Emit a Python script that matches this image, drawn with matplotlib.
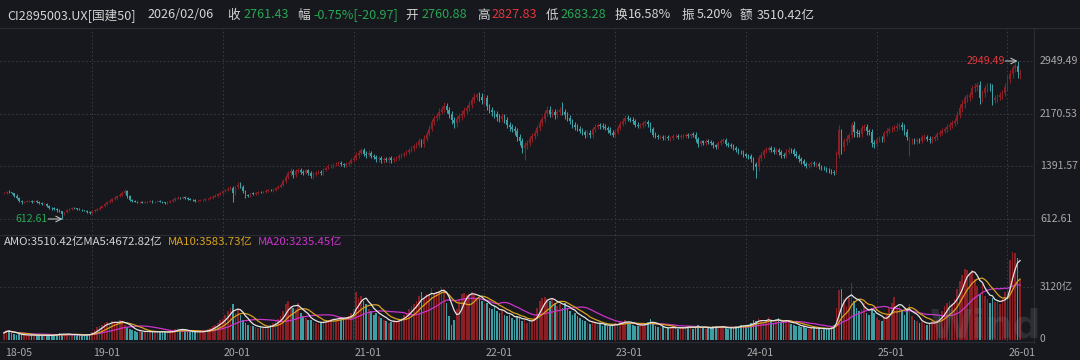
import numpy as np
import pandas as pd
import matplotlib
matplotlib.use("Agg")
import matplotlib.pyplot as plt
from matplotlib.transforms import blended_transform_factory
from matplotlib.lines import Line2D

plt.rcParams['font.family'] = ['Noto Sans CJK SC', 'DejaVu Sans']

# ---------------- data (weekly, 2018-05 .. 2026-02-06) ----------------
first_open = 995
closes = [
    1000, 1015, 1005, 990, 960, 920, 880, 860, 870, 875,
    880, 870, 885, 860, 850, 830, 840, 800, 780, 770,
    760, 740, 725, 690, 710, 740, 760, 775, 770, 760,
    750, 740, 735, 720, 700, 730, 750, 760, 780, 800,
    830, 860, 880, 910, 930, 950, 970, 1000, 1020, 950,
    900, 880, 870, 860, 870, 855, 865, 870, 880, 860,
    870, 880, 870, 860, 850, 860, 880, 900, 915, 930,
    920, 940, 930, 910, 900, 890, 880, 885, 890, 895,
    905, 915, 930, 945, 960, 975, 1000, 1020, 1040, 1060,
    1070, 990, 1080, 1120, 1090, 1020, 970, 960, 990, 985,
    1000, 1010, 1005, 1015, 1030, 1040, 1035, 1045, 1070, 1090,
    1120, 1180, 1230, 1290, 1320, 1270, 1320, 1340, 1310, 1300,
    1330, 1290, 1250, 1280, 1300, 1310, 1290, 1340, 1370, 1390,
    1400, 1420, 1430, 1440, 1420, 1410, 1425, 1445, 1480, 1520,
    1560, 1590, 1630, 1580, 1560, 1590, 1550, 1530, 1500, 1520,
    1480, 1500, 1490, 1510, 1480, 1500, 1520, 1540, 1560, 1580,
    1600, 1630, 1660, 1690, 1710, 1760, 1720, 1800, 1870, 1950,
    2040, 2100, 2130, 2200, 2240, 2280, 2230, 2160, 2080, 2030,
    2090, 2130, 2170, 2210, 2250, 2300, 2370, 2420, 2450, 2420,
    2370, 2400, 2280, 2230, 2190, 2160, 2120, 2090, 2130, 2080,
    2010, 1970, 1950, 1910, 1830, 1770, 1660, 1700, 1740, 1790,
    1840, 1880, 1960, 2030, 2090, 2180, 2230, 2170, 2190, 2150,
    2190, 2220, 2200, 2150, 2110, 2060, 2010, 1980, 1950, 1920,
    1900, 1860, 1890, 1850, 1940, 1980, 2000, 1990, 1980, 1960,
    1930, 1890, 1860, 1900, 1960, 2020, 2060, 2110, 2090, 2080,
    2060, 2010, 1990, 2000, 2030, 2040, 2020, 1940, 1860, 1840,
    1830, 1830, 1815, 1825, 1805, 1815, 1835, 1845, 1825, 1835,
    1845, 1855, 1845, 1865, 1860, 1790, 1720, 1760, 1740, 1770,
    1750, 1740, 1700, 1680, 1740, 1770, 1780, 1720, 1700, 1690,
    1660, 1640, 1610, 1600, 1570, 1550, 1540, 1500, 1420, 1380,
    1520, 1560, 1620, 1640, 1660, 1640, 1610, 1630, 1600, 1560,
    1550, 1610, 1640, 1630, 1580, 1550, 1500, 1470, 1430, 1400,
    1420, 1440, 1420, 1430, 1390, 1370, 1360, 1340, 1330, 1310,
    1300, 1560, 1930, 1680, 1760, 1800, 1850, 2000, 1900, 1880,
    1870, 1960, 1980, 1910, 1900, 1740, 1720, 1790, 1800, 1790,
    1880, 1920, 1940, 1950, 1960, 1990, 2000, 1980, 1900, 1830,
    1760, 1770, 1760, 1780, 1770, 1820, 1830, 1800, 1780, 1800,
    1820, 1870, 1890, 1920, 1940, 1970, 2000, 2030, 2060, 2150,
    2250, 2320, 2395, 2420, 2445, 2545, 2570, 2590, 2400, 2470,
    2545, 2570, 2560, 2380, 2400, 2420, 2440, 2470, 2560, 2680,
    2760, 2840, 2880, 2782.40, 2761.43,
]
open_overrides = {360: 1590, 404: 2760.88}
upper_wick = [
    15, 12, 20, 10, 14, 18, 22, 9, 12, 16, 11, 14, 8, 13, 17, 10, 12, 9, 15, 11,
    13, 16, 20, 12, 10, 14, 11, 15, 9, 12, 10, 13, 11, 8, 12, 14, 16, 12, 18, 15,
    20, 16, 22, 18, 25, 19, 21, 30, 30, 15, 12, 10, 14, 11, 9, 13, 10, 12, 15, 11,
    10, 14, 12, 9, 11, 13, 15, 18, 16, 20, 14, 12, 10, 11, 13, 9, 12, 10, 14, 12,
    15, 13, 18, 16, 20, 22, 18, 25, 21, 24, 28, 30, 26, 35, 45, 20, 18, 16, 14, 17,
    15, 18, 14, 16, 19, 15, 17, 20, 22, 25, 24, 30, 28, 35, 40, 32, 28, 25, 30, 26,
    28, 24, 30, 26, 22, 25, 28, 24, 26, 30, 28, 25, 27, 24, 26, 22, 28, 30, 32, 35,
    38, 40, 30, 35, 32, 40, 28, 30, 34, 26, 28, 30, 25, 32, 28, 26, 30, 28, 32, 30,
    34, 36, 38, 35, 40, 45, 42, 48, 50, 46, 52, 48, 45, 55, 50, 60, 50, 45, 55, 48,
    45, 50, 48, 52, 46, 55, 50, 60, 20, 45, 50, 42, 48, 40, 45, 42, 50, 46, 52, 40,
    45, 40, 42, 38, 44, 40, 46, 55, 40, 44, 42, 48, 50, 46, 52, 48, 55, 50, 45, 48,
    52, 46, 120, 44, 40, 42, 38, 36, 40, 35, 38, 34, 40, 36, 38, 42, 36, 34, 38, 32,
    35, 38, 32, 36, 40, 38, 42, 45, 40, 36, 34, 38, 32, 35, 38, 36, 40, 34, 30, 32,
    28, 30, 26, 32, 28, 30, 34, 28, 26, 30, 32, 28, 30, 26, 28, 34, 30, 26, 28, 32,
    28, 26, 30, 28, 32, 30, 26, 28, 25, 30, 26, 28, 24, 26, 28, 25, 30, 28, 35, 40,
    45, 38, 35, 40, 36, 34, 38, 32, 35, 30, 34, 36, 32, 30, 28, 32, 30, 28, 26, 28,
    26, 30, 28, 25, 27, 24, 26, 25, 24, 26, 28, 60, 80, 20, 45, 50, 40, 50, 60, 45,
    42, 40, 45, 38, 40, 50, 40, 38, 35, 40, 36, 38, 40, 35, 42, 38, 36, 40, 45, 40,
    60, 40, 38, 36, 34, 38, 35, 32, 36, 34, 38, 35, 40, 38, 36, 42, 40, 45, 50, 55,
    60, 55, 50, 48, 52, 55, 60, 50, 70, 55, 50, 52, 60, 55, 50, 48, 52, 55, 60, 65,
    55, 50, 60, 69.49, 66.40,
]
lower_wick = [
    12, 15, 10, 14, 18, 12, 16, 20, 14, 10, 12, 15, 11, 9, 14, 16, 12, 15, 13, 18,
    15, 20, 15, 77.39, 14, 12, 10, 13, 15, 12, 11, 14, 10, 15, 20, 12, 10, 14, 11, 12,
    15, 13, 12, 16, 14, 18, 15, 12, 20, 25, 22, 15, 12, 10, 14, 11, 13, 10, 12, 14,
    12, 10, 13, 11, 15, 12, 10, 9, 14, 12, 16, 13, 15, 11, 10, 12, 14, 11, 13, 10,
    12, 14, 11, 15, 13, 16, 14, 18, 15, 20, 22, 120, 25, 20, 22, 30, 40, 25, 20, 18,
    16, 18, 15, 14, 17, 16, 15, 18, 20, 18, 22, 25, 28, 30, 35, 45, 30, 28, 25, 30,
    28, 30, 35, 40, 30, 26, 28, 25, 24, 22, 26, 28, 25, 30, 28, 26, 24, 28, 25, 30,
    35, 40, 32, 38, 45, 36, 40, 35, 38, 45, 32, 40, 35, 45, 38, 30, 32, 28, 30, 26,
    28, 30, 32, 35, 30, 36, 45, 38, 40, 36, 42, 40, 38, 45, 40, 48, 55, 50, 60, 65,
    50, 45, 48, 42, 46, 40, 45, 48, 50, 55, 60, 50, 55, 50, 48, 52, 55, 50, 45, 52,
    50, 55, 48, 52, 60, 65, 70, 170, 55, 50, 45, 48, 42, 46, 44, 50, 48, 55, 50, 52,
    48, 45, 50, 52, 48, 45, 50, 46, 42, 40, 45, 42, 38, 40, 36, 38, 35, 40, 36, 38,
    40, 42, 38, 36, 34, 38, 36, 40, 35, 38, 40, 36, 38, 34, 36, 45, 50, 40, 38, 35,
    32, 30, 34, 28, 30, 32, 28, 30, 34, 28, 30, 32, 28, 30, 34, 45, 40, 30, 32, 28,
    30, 28, 34, 32, 28, 26, 30, 32, 28, 30, 34, 32, 36, 30, 34, 38, 40, 45, 80, 167,
    60, 45, 40, 38, 36, 40, 38, 35, 40, 42, 38, 35, 32, 36, 40, 38, 42, 40, 38, 36,
    34, 32, 30, 34, 32, 30, 28, 30, 32, 35, 30, 25, 40, 100, 60, 50, 55, 45, 70, 50,
    45, 50, 48, 55, 50, 60, 55, 45, 40, 42, 38, 36, 40, 38, 42, 40, 45, 50, 48, 52,
    40, 45, 42, 40, 38, 36, 40, 38, 42, 36, 34, 38, 35, 32, 36, 34, 38, 36, 40, 45,
    50, 55, 60, 50, 55, 48, 52, 60, 90, 55, 50, 48, 60, 80, 55, 50, 48, 52, 45, 50,
    55, 60, 50, 80, 77.60,
]
volumes = [  # 亿
    420, 580, 560, 400, 360, 300, 330, 280, 310, 290,
    270, 300, 260, 320, 280, 250, 270, 300, 260, 280,
    310, 350, 420, 330, 300, 360, 340, 290, 310, 300,
    280, 260, 300, 330, 380, 450, 600, 750, 820, 900,
    1000, 1080, 950, 1120, 1050, 980, 1150, 1100, 900, 760,
    650, 600, 520, 480, 560, 500, 470, 520, 450, 480,
    500, 460, 520, 480, 450, 430, 500, 560, 620, 700,
    650, 560, 520, 480, 500, 470, 450, 500, 480, 520,
    560, 620, 700, 820, 900, 1000, 1150, 1250, 1500, 1700,
    1900, 2100, 1600, 1800, 1500, 1200, 1000, 900, 850, 800,
    780, 720, 750, 700, 760, 820, 900, 1000, 1100, 1250,
    1400, 1700, 2100, 2300, 2000, 1900, 1800, 2200, 1600, 1400,
    1300, 1200, 1150, 1050, 1000, 950, 1050, 1100, 1200, 1150,
    1250, 1300, 1200, 1350, 1300, 1250, 1350, 1400, 1600, 1800,
    2850, 2460, 2600, 2300, 2100, 1800, 1700, 1500, 1600, 1400,
    1300, 1200, 1100, 1000, 1050, 1150, 1100, 1250, 1300, 1500,
    1600, 1800, 2000, 2100, 2300, 2600, 2800, 2500, 2700, 2650,
    3050, 2700, 2800, 2900, 3140, 3000, 2200, 1400, 900, 1200,
    1800, 2400, 2700, 2750, 2650, 2700, 2800, 2650, 2500, 2400,
    2300, 2100, 2200, 1900, 1800, 2000, 1700, 1600, 1800, 1500,
    1400, 1500, 1300, 1200, 1400, 1300, 1100, 1200, 1000, 1100,
    1200, 1400, 1900, 2300, 2500, 2550, 2400, 2300, 2450, 2200,
    2000, 2100, 1900, 2200, 1800, 1700, 1500, 1600, 1400, 1300,
    1200, 1100, 1000, 950, 1100, 1000, 900, 950, 850, 900,
    800, 850, 900, 1000, 950, 1100, 1000, 1200, 1050, 950,
    900, 850, 800, 950, 900, 1000, 1050, 1250, 1000, 800,
    750, 700, 800, 650, 700, 750, 800, 700, 650, 700,
    750, 800, 850, 700, 650, 800, 900, 750, 700, 650,
    700, 750, 800, 850, 700, 750, 800, 700, 650, 700,
    750, 800, 850, 900, 850, 800, 900, 1000, 1200, 1100,
    1300, 1100, 1000, 1200, 1350, 1100, 1000, 1200, 1300, 1050,
    1000, 1150, 1100, 950, 900, 850, 800, 750, 800, 700,
    650, 700, 750, 700, 650, 600, 700, 650, 700, 750,
    900, 1900, 2950, 3000, 2400, 2000, 2500, 3380, 2300, 1900,
    1700, 1800, 2200, 1600, 1500, 1900, 1600, 1300, 1200, 1100,
    1300, 1500, 1900, 2200, 2550, 1800, 2000, 1700, 1500, 1800,
    2100, 1400, 1200, 1100, 1000, 1050, 950, 900, 1000, 1100,
    1050, 1200, 1500, 1700, 2000, 2200, 2300, 2100, 2400, 3000,
    3500, 3800, 4200, 4100, 3900, 4150, 3600, 3200, 2700, 3300,
    2600, 2400, 2200, 2500, 2222, 2300, 2100, 2400, 2800, 2873,
    4700, 5200, 5100, 4853.70, 3510.42,
]
year_start_bars = [35, 87, 139, 191, 243, 295, 347, 399]
x_tick_bars = [0, 35, 87, 139, 191, 243, 295, 347, 399]
x_tick_labels = ["18-05", "19-01", "20-01", "21-01", "22-01", "23-01", "24-01", "25-01", "26-01"]
price_ticks = [612.61, 1391.57, 2170.53, 2949.49]
vol_ticks = [0, 3120]
vol_tick_labels = ["0", "3120亿"]

header_parts = ["CI2895003.UX[国建50]", "2026/02/06", "收", "2761.43", "幅", "-0.75%[-20.97]",
                "开", "2760.88", "高", "2827.83", "低", "2683.28", "换", "16.58%",
                "振", "5.20%", "额", "3510.42亿"]
legend_parts = ["AMO:3510.42亿MA5:4672.82亿", "MA10:3583.73亿", "MA20:3235.45亿"]

n = len(closes)
for name, arr in [("upper", upper_wick), ("lower", lower_wick), ("vol", volumes)]:
    if len(arr) != n:
        raise ValueError(f"{name} length {len(arr)} != {n}")

# ---------------- style ----------------
BG = '#16181d'
RED = '#8a1f25'
TEAL = '#3d9ea4'
GRID = '#3a3d44'
TXT = '#d4d4d4'
AXT = '#a9a9a9'
GREEN_T = '#27a653'
RED_T = '#e2363d'
C_MA5 = '#e4e4e4'
C_MA10 = '#d9a21e'
C_MA20 = '#cc33cc'

W, H = 1080, 360
def fx(px): return px / W
def fy(py): return 1 - py / H

fig = plt.figure(figsize=(10.8, 3.6), dpi=100, facecolor=BG)

P_TOP, P_BOT, V_BOT, RIGHT = 28, 235, 341, 1034
ax = fig.add_axes([0, fy(P_BOT), fx(RIGHT), fy(P_TOP) - fy(P_BOT)], facecolor=BG)
axv = fig.add_axes([0, fy(V_BOT), fx(RIGHT), fy(P_BOT) - fy(V_BOT)], facecolor=BG)

c = np.array(closes, dtype=float)
o = np.r_[first_open, c[:-1]]
for k, v in open_overrides.items():
    o[k] = v
hi_body = np.maximum(o, c)
lo_body = np.minimum(o, c)
highs = hi_body + np.array(upper_wick, dtype=float)
lows = lo_body - np.array(lower_wick, dtype=float)
x = np.arange(n)
up = c >= o
cols = np.where(up, RED, TEAL)

# x range: pixel 0 .. 1034 ; bar i at pixel 4 + 2.515 i
dx = 2.515
xl = (-4 / dx, (RIGHT - 4) / dx)
for a in (ax, axv):
    a.set_xlim(*xl)
    for s in a.spines.values():
        s.set_visible(False)
    a.set_xticks([]); a.set_yticks([])

# price y-lims from tick pixel positions (2949.49 @ y61, 612.61 @ y219)
ppx = (2949.49 - 612.61) / (219 - 61)
ax.set_ylim(612.61 - (P_BOT - 219) * ppx, 2949.49 + (61 - P_TOP) * ppx)

for v in price_ticks:
    ax.axhline(v, color=GRID, lw=0.7, ls=(0, (1.5, 2.5)), zorder=0)
for b in year_start_bars:
    ax.axvline(b, color=GRID, lw=0.7, ls=(0, (1.5, 2.5)), zorder=0)
    axv.axvline(b, color=GRID, lw=0.7, ls=(0, (1.5, 2.5)), zorder=0)

ax.vlines(x, lows, highs, colors=cols, lw=0.75, zorder=2)
ax.bar(x, np.maximum(hi_body - lo_body, 6), bottom=lo_body, width=0.66,
       color=cols, lw=0, zorder=3)

# extremes
imax = int(np.argmax(highs)); imin = int(np.argmin(lows))
ax.annotate('', xy=(imax, highs[imax]), xytext=(imax - 4.8, highs[imax]),
            arrowprops=dict(arrowstyle='->', color='#bdbdbd', lw=0.8, shrinkA=0, shrinkB=0))
ax.text(imax - 4.9, highs[imax], f"{highs[imax]:.2f}", color=RED_T, fontsize=7.6,
        ha='right', va='center')
ax.annotate('', xy=(imin + 0.3, lows[imin]), xytext=(imin - 5.4, lows[imin]),
            arrowprops=dict(arrowstyle='->', color='#bdbdbd', lw=0.8, shrinkA=0, shrinkB=0))
ax.text(imin - 5.5, lows[imin], f"{lows[imin]:.2f}", color=GREEN_T, fontsize=7.6,
        ha='right', va='center')

tr_p = blended_transform_factory(ax.transAxes, ax.transData)
for v in price_ticks:
    ax.text(1040 / RIGHT, v, f"{v:.2f}", transform=tr_p, color=AXT, fontsize=7.6,
            ha='left', va='center', clip_on=False)

# ---------------- volume ----------------
vol = pd.Series(volumes, dtype=float)
ma5 = vol.rolling(5, min_periods=1).mean()
ma10 = vol.rolling(10, min_periods=1).mean()
ma20 = vol.rolling(20, min_periods=1).mean()

vpx = 3120 / (340 - 287)
axv.set_ylim(-(V_BOT - 340) * vpx, (340 - P_BOT) * vpx)
axv.axhline(3120, color=GRID, lw=0.7, ls=(0, (1.5, 2.5)), zorder=0)
axv.bar(x, vol.values, width=0.66, color=cols, lw=0, zorder=2)
axv.plot(x, ma20.values, color=C_MA20, lw=0.9, zorder=3)
axv.plot(x, ma10.values, color=C_MA10, lw=0.9, zorder=4)
axv.plot(x, ma5.values, color=C_MA5, lw=0.9, zorder=5)

tr_v = blended_transform_factory(axv.transAxes, axv.transData)
vol_label_y = [vol_ticks[0] + 1.5 * vpx, vol_ticks[1]]
for v, lab in zip(vol_label_y, vol_tick_labels):
    axv.text(1040 / RIGHT, v, lab, transform=tr_v, color=AXT, fontsize=7.4,
             ha='left', va='center', clip_on=False)

# legend row
leg_x = [4, 168, 258]
leg_c = [TXT, C_MA10, C_MA20]
for t, px, col in zip(legend_parts, leg_x, leg_c):
    fig.text(fx(px), fy(242), t, color=col, fontsize=8.2, ha='left', va='center')

# x labels
tr_x = blended_transform_factory(axv.transData, fig.transFigure)
for b, lab in zip(x_tick_bars, x_tick_labels):
    fig.text(b + 0.3, fy(352.5), lab, transform=tr_x, color=AXT, fontsize=7.6,
             ha='left', va='center')

# frame lines
fig.add_artist(Line2D([0, 1], [fy(P_TOP), fy(P_TOP)], color='#2a2d33', lw=0.8))
fig.add_artist(Line2D([0, fx(RIGHT)], [fy(P_BOT), fy(P_BOT)], color='#2a2d33', lw=0.8))
fig.add_artist(Line2D([fx(RIGHT), fx(RIGHT)], [fy(V_BOT + 2), fy(P_TOP)], color='#2a2d33', lw=0.8))
fig.add_artist(Line2D([0, fx(RIGHT)], [fy(V_BOT + 1), fy(V_BOT + 1)], color='#2a2d33', lw=0.8))

# header
head_x = [7, 148, 227, 244, 297, 313, 405, 422, 477, 492, 546, 561, 615, 628, 681, 697, 740, 757]
head_c = [TXT, TXT, TXT, GREEN_T, TXT, GREEN_T, TXT, GREEN_T, TXT, RED_T, TXT, GREEN_T,
          TXT, TXT, TXT, TXT, TXT, TXT]
for t, px, col in zip(header_parts, head_x, head_c):
    fig.text(fx(px), fy(15), t, color=col, fontsize=9.1, ha='left', va='center')

# watermark (kept clear of the axis labels)
fig.text(fx(930), fy(345), "Wind", color='#8a8d94', alpha=0.2, fontsize=28,
         fontweight='bold', family='DejaVu Sans', ha='left', va='bottom', zorder=10)

fig.savefig("out.png", dpi=100, facecolor=BG)
